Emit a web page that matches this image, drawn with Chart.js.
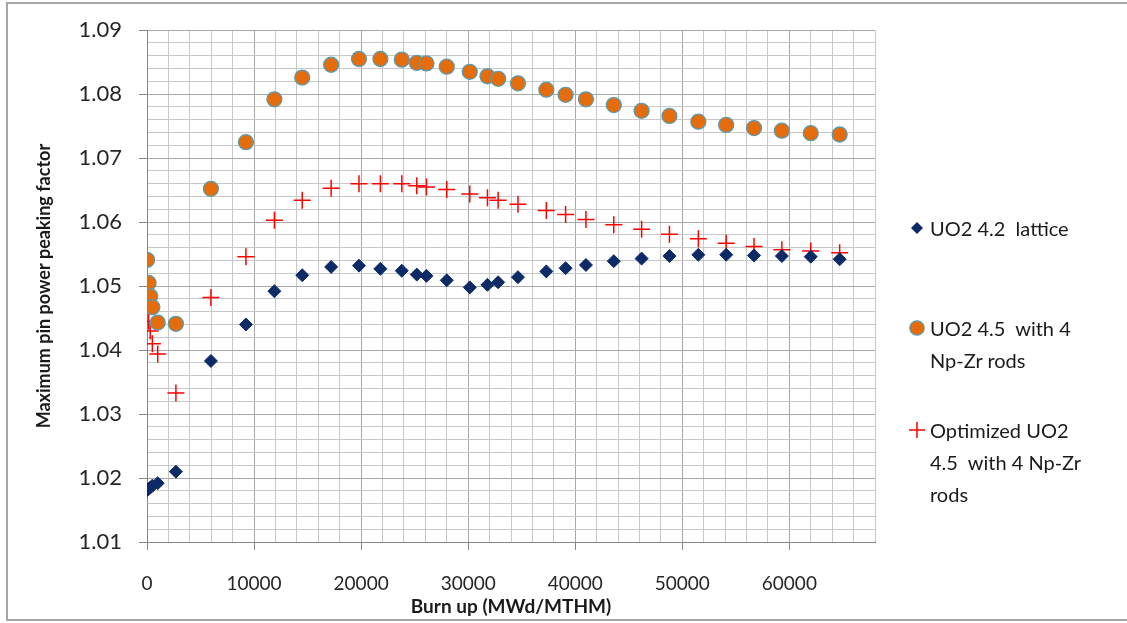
<!DOCTYPE html>
<html>
<head>
<meta charset="utf-8">
<script src="https://cdn.jsdelivr.net/npm/chart.js@4"></script>
<style>
  html, body { margin: 0; background: #fff; font-family: Lato, sans-serif; overflow: hidden; }
  #wrap { position: relative; width: 1127px; height: 623px; overflow: hidden; }
  #frame { position: absolute; left: 6px; top: 2px; width: 1300px; height: 619px; border: 2px solid #a6a6a6; border-right: none; box-sizing: border-box; }
  canvas { position: absolute; left: 0; top: 0; }
  .leg { position: absolute; left: 930px; font-size: 20px; line-height: 32px; color: #1a1a1a; white-space: pre; }
  .mk { position: absolute; }
</style>
</head>
<body>
<div id="wrap">
  <div id="frame"></div>
  <canvas id="grafico" width="1127" height="623"></canvas>

  <!-- leyenda a mano (texto en varias líneas) -->
  <svg class="mk" style="left:911px;top:222px" width="12" height="12"><polygon points="6,0 12,6 6,12 0,6" fill="#0c2b66"/></svg>
  <div class="leg" style="top:212px">UO2 4.2  lattice</div>

  <svg class="mk" style="left:909px;top:320px" width="16" height="16"><circle cx="8" cy="8" r="7.2" fill="#e46c0a" stroke="#5b9bb0" stroke-width="1.3"/></svg>
  <div class="leg" style="top:312px">UO2 4.5  with 4<br>Np-Zr rods</div>

  <svg class="mk" style="left:909px;top:422px" width="16" height="16"><path d="M8 0 V16 M0 8 H16" stroke="#ff0000" stroke-width="1.5"/></svg>
  <div class="leg" style="top:414px">Optimized UO2<br>4.5  with 4 Np-Zr<br>rods</div>
</div>

<script>
// Datos
const burnup = [0, 150, 300, 500, 1000, 2700, 5970, 9240, 11900, 14500, 17200, 19800, 21800, 23800, 25200, 26100,
  28000, 30150, 31800, 32800, 34650, 37300, 39100, 41000, 43600, 46200, 48800, 51500, 54100, 56700, 59300, 62000, 64700];

const uo2Lattice = [1.0181, 1.0183, 1.0185, 1.0188, 1.0192, 1.0210, 1.0383, 1.0440, 1.0492, 1.0517, 1.0530, 1.0532,
  1.0527, 1.0524, 1.0518, 1.0516, 1.0509, 1.0498, 1.0502, 1.0506, 1.0514, 1.0523, 1.0528, 1.0533, 1.0539,
  1.0543, 1.0547, 1.0549, 1.0549, 1.0548, 1.0547, 1.0546, 1.0542];

const uo2NpZr = [1.0541, 1.0505, 1.0484, 1.0467, 1.0443, 1.0441, 1.0652, 1.0725, 1.0792, 1.0826, 1.0846, 1.0855,
  1.0855, 1.0854, 1.0849, 1.0848, 1.0843, 1.0835, 1.0828, 1.0824, 1.0817, 1.0807, 1.0799, 1.0792, 1.0783,
  1.0774, 1.0766, 1.0757, 1.0752, 1.0747, 1.0743, 1.0739, 1.0737];

const optimizado = [1.0474, 1.0445, 1.0430, 1.0410, 1.0394, 1.0333, 1.0482, 1.0546, 1.0603, 1.0634, 1.0653, 1.0660,
  1.0660, 1.0660, 1.0657, 1.0655, 1.0651, 1.0644, 1.0638, 1.0634, 1.0628, 1.0618, 1.0612, 1.0604, 1.0596,
  1.0589, 1.0581, 1.0574, 1.0567, 1.0562, 1.0557, 1.0555, 1.0552];

const nombres = ['UO2 4.2  lattice', 'UO2 4.5  with 4 Np-Zr rods', 'Optimized UO2 4.5  with 4 Np-Zr rods'];

const puntos = serie => burnup.map((x, i) => ({ x: x, y: serie[i] }));

// 👉 líneas mayores / menores como en Excel
const esMayorX = v => Math.round(v) % 10000 === 0;
const esMayorY = v => Math.round(v * 1000) % 10 === 0;

new Chart(document.getElementById('grafico'), {
  type: 'scatter',
  data: {
    datasets: [
      { label: nombres[0], data: puntos(uo2Lattice), pointStyle: 'rectRot', pointRadius: 6.5,
        backgroundColor: '#0c2b66', borderColor: '#0c2b66', borderWidth: 1 },
      { label: nombres[1], data: puntos(uo2NpZr), pointStyle: 'circle', pointRadius: 7.5,
        backgroundColor: '#e46c0a', borderColor: '#5b9bb0', borderWidth: 1.3 },
      { label: nombres[2], data: puntos(optimizado), pointStyle: 'cross', pointRadius: 8.5,
        backgroundColor: '#ff0000', borderColor: '#ff0000', borderWidth: 1.5 }
    ]
  },
  options: {
    responsive: false,
    animation: false,
    devicePixelRatio: 1,
    layout: { padding: { left: 20, right: 252, top: 18, bottom: 0 } },
    plugins: { legend: { display: false }, tooltip: { enabled: false } },
    scales: {
      x: {
        type: 'linear', min: 0, max: 68000,
        afterFit: s => { s.height = 81; },
        border: { display: true, color: '#868686', width: 1 },
        grid: {
          color: c => esMayorX(c.tick.value) ? '#a8a8a8' : '#c8c8c8',
          tickColor: c => esMayorX(c.tick.value) ? '#868686' : 'rgba(0,0,0,0)',
          tickLength: 8
        },
        ticks: {
          stepSize: 2000, autoSkip: false, maxRotation: 0, padding: 22,
          color: '#262626', font: { family: 'Lato', size: 19 },
          callback: v => esMayorX(v) ? String(v) : ''
        },
        title: { display: true, text: 'Burn up (MWd/MTHM)', color: '#1a1a1a',
          font: { family: 'Lato', size: 19, weight: 'bold' }, padding: { top: 0, bottom: 5 } }
      },
      y: {
        min: 1.01, max: 1.09,
        afterFit: s => { s.width = 127; },
        border: { display: true, color: '#868686', width: 1 },
        grid: {
          color: c => esMayorY(c.tick.value) ? '#a8a8a8' : '#c8c8c8',
          tickColor: c => esMayorY(c.tick.value) ? '#868686' : 'rgba(0,0,0,0)',
          tickLength: 8
        },
        ticks: {
          stepSize: 0.002, autoSkip: false, padding: 17,
          color: '#262626', font: { family: 'Lato', size: 22 },
          callback: v => esMayorY(v) ? v.toFixed(2) : ''
        },
        title: { display: true, text: 'Maximum pin power peaking factor', color: '#1a1a1a',
          font: { family: 'Lato', size: 18, weight: 'bold' }, padding: { top: 13, bottom: 0 } }
      }
    }
  }
});
</script>
</body>
</html>
